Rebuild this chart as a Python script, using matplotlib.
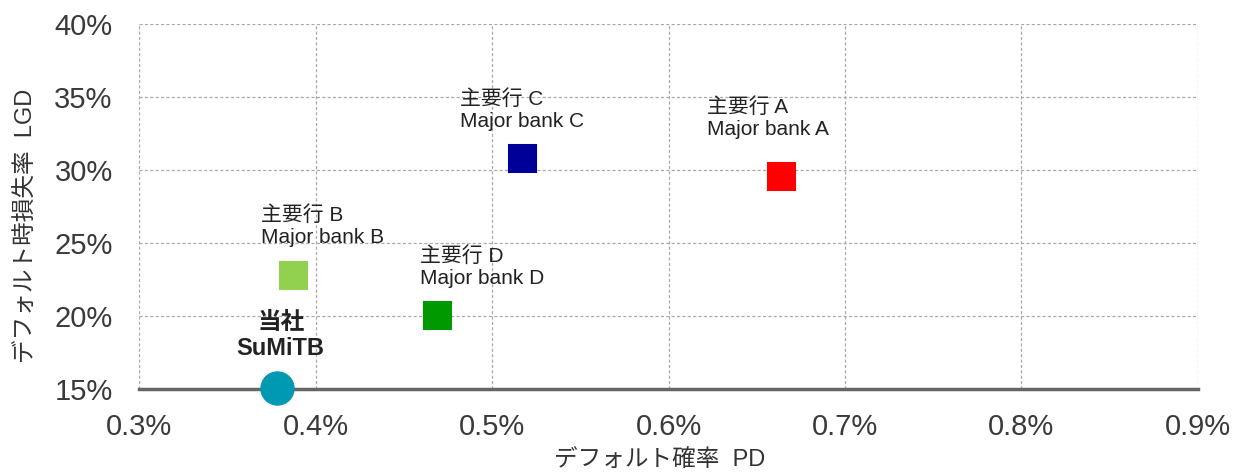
import matplotlib
matplotlib.use('Agg')
import matplotlib.pyplot as plt
from matplotlib.ticker import FuncFormatter

plt.rcParams['font.family'] = ['Liberation Sans', 'Noto Sans CJK JP', 'DejaVu Sans']

# data (PD %, LGD %)
banks = ['主要行 A\nMajor bank A', '主要行 C\nMajor bank C', '主要行 D\nMajor bank D', '主要行 B\nMajor bank B']
bank_pd = [0.664, 0.517, 0.469, 0.387]
bank_lgd = [29.6, 30.8, 20.1, 22.8]
bank_colors = ['#ff0000', '#000099', '#009900', '#92d050']
# label offsets from marker (pixels: left, up)
label_offsets = [(-74, 37), (-62, 27), (-17, 27), (-32, 28)]

own_label = '当社\nSuMiTB'
own_pd = [0.378]
own_lgd = [15.1]
own_color = '#0099b4'

x_ticks = [0.3, 0.4, 0.5, 0.6, 0.7, 0.8, 0.9]
y_ticks = [15, 20, 25, 30, 35, 40]

fig = plt.figure(figsize=(12.35, 4.75), dpi=100)
ax = fig.add_axes([0.1126, 0.181, 0.8574, 0.7685])

px = 72 / 100  # pixels -> points

for x, y, c in zip(bank_pd, bank_lgd, bank_colors):
    ax.plot(x, y, marker='s', markersize=18.5, color=c, markeredgecolor=c,
            markeredgewidth=2.2, linestyle='none', zorder=4,
            solid_joinstyle='round')
for lab, x, y, (dx, dy) in zip(banks, bank_pd, bank_lgd, label_offsets):
    ax.annotate(lab, xy=(x, y), xytext=(dx * px, dy * px), textcoords='offset points',
                ha='left', va='bottom', fontsize=15, color='#222222',
                linespacing=1.2, zorder=5)

ax.scatter(own_pd, own_lgd, s=(33 * px) ** 2, color=own_color, zorder=4, clip_on=False)
ax.annotate(own_label, xy=(own_pd[0], own_lgd[0]), xytext=(4 * px, 28 * px),
            textcoords='offset points', ha='center', va='bottom', fontsize=17,
            fontweight='bold', color='#222222', linespacing=1.15, zorder=5)

ax.set_xlim(0.3, 0.9)
ax.set_ylim(15, 40)
ax.set_xticks(x_ticks)
ax.set_yticks(y_ticks)
ax.xaxis.set_major_formatter(FuncFormatter(lambda v, p: '{:.1f}%'.format(v)))
ax.yaxis.set_major_formatter(FuncFormatter(lambda v, p: '{:.0f}%'.format(v)))
ax.tick_params(length=0, labelsize=21, labelcolor='#3a3a3a')
ax.tick_params(axis='x', pad=17)
ax.tick_params(axis='y', pad=19)

ax.grid(True, linestyle=(0, (2.5, 1.8)), color='#aaaaaa', linewidth=0.9)
ax.set_axisbelow(True)
for s in ['left', 'top', 'right']:
    ax.spines[s].set_visible(False)
ax.spines['bottom'].set_color('#666666')
ax.spines['bottom'].set_linewidth(2.5)

ax.set_xlabel('デフォルト確率  PD', fontsize=17, color='#333333', va='top')
ax.xaxis.set_label_coords(0.492, -0.168)
ax.set_ylabel('デフォルト時損失率  LGD', fontsize=17, color='#333333')
ax.yaxis.set_label_coords(-0.0954, 0.447)

fig.savefig('out.png', dpi=100)
